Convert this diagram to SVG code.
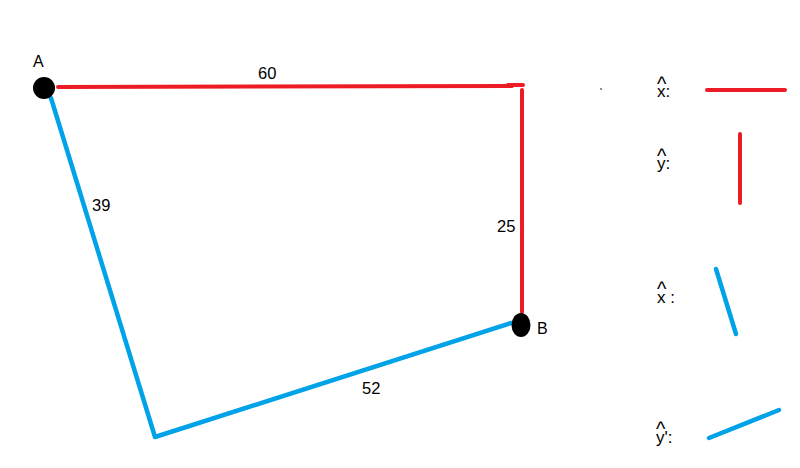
<svg xmlns="http://www.w3.org/2000/svg" width="800" height="468" viewBox="0 0 800 468">
<style>
text{font-family:"Liberation Sans",Arial,sans-serif;font-size:15px;fill:#000}
.num{font-size:16.5px}
.node{font-size:16px}
.leg{font-size:17px}
.hat{font-size:20px}
.red{stroke:#ed1c24;stroke-width:4;fill:none;stroke-linecap:round}
.blue{stroke:#00a2e8;stroke-width:4.5;fill:none;stroke-linecap:round;stroke-linejoin:round}
.dot{fill:#000}
</style>
<rect width="800" height="468" fill="#fff"/>
<g id="connectors">
<polyline class="red" points="58,87 512,86"/>
<polyline class="red" points="508,85 523,85"/>
<polyline class="red" points="522,90 522,312"/>
<polyline class="blue" points="51,98 155,437 511,323"/>
</g>
<g id="node-A">
<ellipse class="dot" cx="44" cy="88" rx="11" ry="11"/>
<text class="node" x="33" y="67">A</text>
</g>
<g id="node-B">
<ellipse class="dot" cx="521" cy="325" rx="9.5" ry="12"/>
<text class="node" x="537" y="334">B</text>
</g>
<g id="labels">
<text class="num" x="258" y="79">60</text>
<text class="num" x="92" y="211">39</text>
<text class="num" x="497" y="232">25</text>
<text class="num" x="362" y="394">52</text>
<circle cx="601" cy="89" r="0.8" fill="#000"/>
</g>
<g id="legend">
<text class="leg" x="657" y="91"><tspan class="hat">^</tspan><tspan x="657" dy="6">x:</tspan></text>
<line class="red" x1="707" y1="90" x2="785" y2="90"/>
<text class="leg" x="657" y="163"><tspan class="hat">^</tspan><tspan x="657" dy="6">y:</tspan></text>
<line class="red" x1="740" y1="134" x2="740" y2="203"/>
<text class="leg" x="657" y="296"><tspan class="hat">^</tspan><tspan x="657" dy="7">x :</tspan></text>
<line class="blue" x1="716" y1="269" x2="736" y2="334"/>
<text class="leg" x="656" y="436"><tspan class="hat">^</tspan><tspan x="656" dy="7">y':</tspan></text>
<line class="blue" x1="709" y1="438" x2="779" y2="410"/>
</g>
</svg>
